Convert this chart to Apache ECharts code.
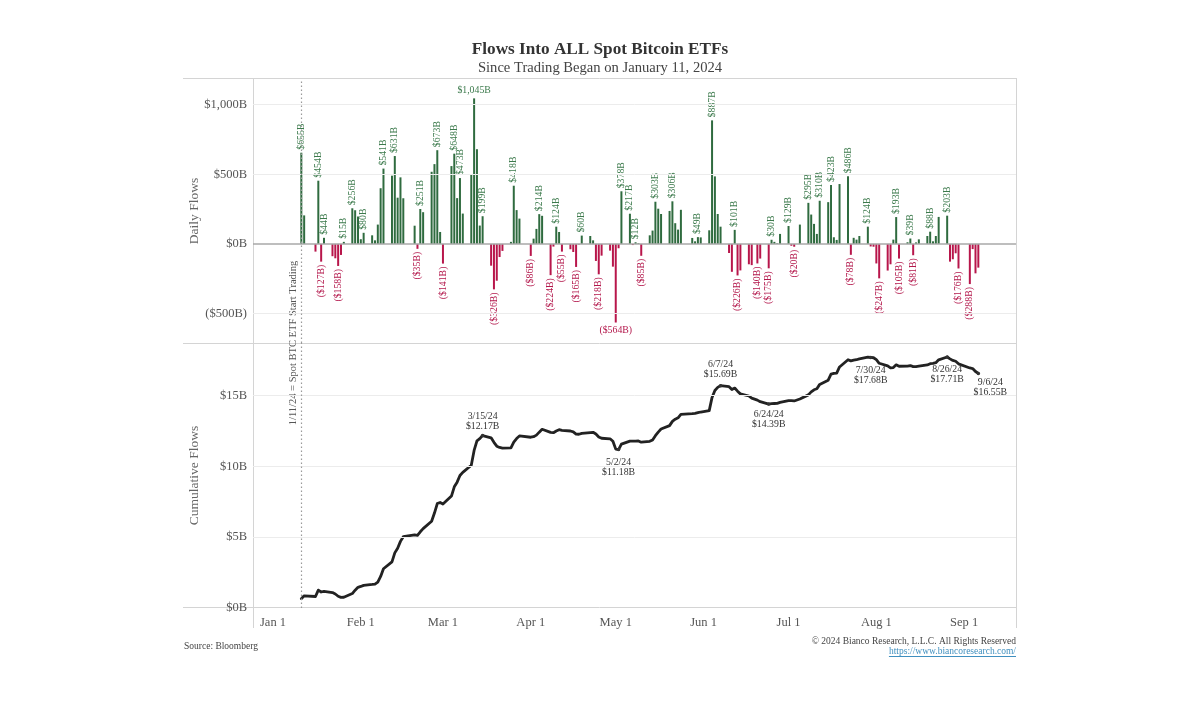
<!DOCTYPE html>
<html><head><meta charset="utf-8">
<script src="https://cdn.jsdelivr.net/npm/echarts@6/dist/echarts.min.js"></script>
<style>html,body{margin:0;padding:0;background:#fff}#c{width:1200px;height:728px}</style>
</head><body><div id="c"></div>
<script>
// ---------------- DATA ----------------
const tradingDays = [
'2024-01-11','2024-01-12','2024-01-16','2024-01-17','2024-01-18','2024-01-19','2024-01-22','2024-01-23','2024-01-24','2024-01-25','2024-01-26','2024-01-29','2024-01-30','2024-01-31',
'2024-02-01','2024-02-02','2024-02-05','2024-02-06','2024-02-07','2024-02-08','2024-02-09','2024-02-12','2024-02-13','2024-02-14','2024-02-15','2024-02-16','2024-02-20','2024-02-21','2024-02-22','2024-02-23','2024-02-26','2024-02-27','2024-02-28','2024-02-29',
'2024-03-01','2024-03-04','2024-03-05','2024-03-06','2024-03-07','2024-03-08','2024-03-11','2024-03-12','2024-03-13','2024-03-14','2024-03-15','2024-03-18','2024-03-19','2024-03-20','2024-03-21','2024-03-22','2024-03-25','2024-03-26','2024-03-27','2024-03-28',
'2024-04-01','2024-04-02','2024-04-03','2024-04-04','2024-04-05','2024-04-08','2024-04-09','2024-04-10','2024-04-11','2024-04-12','2024-04-15','2024-04-16','2024-04-17','2024-04-18','2024-04-19','2024-04-22','2024-04-23','2024-04-24','2024-04-25','2024-04-26','2024-04-29','2024-04-30',
'2024-05-01','2024-05-02','2024-05-03','2024-05-06','2024-05-07','2024-05-08','2024-05-09','2024-05-10','2024-05-13','2024-05-14','2024-05-15','2024-05-16','2024-05-17','2024-05-20','2024-05-21','2024-05-22','2024-05-23','2024-05-24','2024-05-28','2024-05-29','2024-05-30','2024-05-31',
'2024-06-03','2024-06-04','2024-06-05','2024-06-06','2024-06-07','2024-06-10','2024-06-11','2024-06-12','2024-06-13','2024-06-14','2024-06-17','2024-06-18','2024-06-20','2024-06-21','2024-06-24','2024-06-25','2024-06-26','2024-06-27','2024-06-28',
'2024-07-01','2024-07-02','2024-07-03','2024-07-05','2024-07-08','2024-07-09','2024-07-10','2024-07-11','2024-07-12','2024-07-15','2024-07-16','2024-07-17','2024-07-18','2024-07-19','2024-07-22','2024-07-23','2024-07-24','2024-07-25','2024-07-26','2024-07-29','2024-07-30','2024-07-31',
'2024-08-01','2024-08-02','2024-08-05','2024-08-06','2024-08-07','2024-08-08','2024-08-09','2024-08-12','2024-08-13','2024-08-14','2024-08-15','2024-08-16','2024-08-19','2024-08-20','2024-08-21','2024-08-22','2024-08-23','2024-08-26','2024-08-27','2024-08-28','2024-08-29','2024-08-30',
'2024-09-03','2024-09-04','2024-09-05','2024-09-06'
];
// daily net flows (chart's "$…B", i.e. millions)
const dailyFlows = [
655,205,-55,454,-127,44,-88,-103,-158,-79,15,256,242,197,
34,80,62,26,139,400,541,490,631,332,478,328,131,-35,251,228,518,573,673,86,
-141,559,648,329,473,218,502,1045,680,132,199,-156,-326,-264,-94,-50,15,418,243,182,
-86,38,108,214,202,-224,-19,124,86,-55,-38,-58,-165,-4,60,57,26,-122,-218,-84,-48,-163,
-564,-31,378,217,-8,12,5,-85,62,96,303,253,215,237,306,149,103,245,43,19,49,47,
98,887,485,215,124,-65,-200,101,-226,-190,-146,-152,-140,-105,-175,30,15,5,72,
129,-13,-20,139,295,211,144,72,310,300,423,48,29,430,486,-78,44,31,57,124,-18,-20,
-140,-247,-191,-146,31,193,-105,12,39,-81,11,33,57,88,19,57,194,203,-127,-110,-67,-176,
-288,-37,-211,-170
];
// cumulative flows, $B
const cumulativeFlows = [
0.66,0.86,0.81,1.26,1.13,1.18,1.09,0.99,0.83,0.75,0.76,1.02,1.26,1.46,
1.52,1.60,1.66,1.69,1.83,2.23,2.77,3.26,3.89,4.22,4.70,5.03,5.16,5.13,5.38,5.60,6.12,6.70,7.37,7.45,
7.34,7.90,8.55,8.88,9.35,9.57,10.07,11.12,11.80,11.95,12.17,12.01,11.69,11.42,11.33,11.28,11.30,11.71,11.96,12.14,
12.05,12.09,12.20,12.41,12.61,12.39,12.37,12.49,12.58,12.53,12.49,12.43,12.27,12.26,12.32,12.38,12.40,12.28,12.07,11.98,11.94,11.77,
11.21,11.18,11.56,11.78,11.77,11.78,11.79,11.70,11.76,11.86,12.16,12.41,12.63,12.87,13.17,13.32,13.42,13.67,13.71,13.73,13.78,13.83,
13.93,14.86,15.35,15.57,15.69,15.62,15.42,15.52,15.30,15.11,14.96,14.81,14.67,14.56,14.39,14.42,14.43,14.44,14.51,
14.64,14.63,14.61,14.75,15.04,15.25,15.40,15.47,15.78,16.08,16.50,16.55,16.58,17.01,17.52,17.44,17.49,17.52,17.58,17.70,17.68,17.66,
17.52,17.27,17.08,16.94,16.97,17.16,17.06,17.07,17.11,17.03,17.04,17.07,17.15,17.24,17.26,17.31,17.51,17.71,17.58,17.47,17.41,17.23,
16.94,16.90,16.69,16.55
];
const labeledDays = ['2024-01-11','2024-01-17','2024-01-18','2024-01-19','2024-01-24','2024-01-26','2024-01-29','2024-02-02','2024-02-09','2024-02-13','2024-02-21','2024-02-22','2024-02-28','2024-03-01','2024-03-05','2024-03-07','2024-03-12','2024-03-15','2024-03-19','2024-03-26','2024-04-01','2024-04-04','2024-04-08','2024-04-10','2024-04-12','2024-04-17','2024-04-19','2024-04-25','2024-05-01','2024-05-03','2024-05-06','2024-05-08','2024-05-10','2024-05-15','2024-05-21','2024-05-30','2024-06-04','2024-06-12','2024-06-13','2024-06-20','2024-06-24','2024-06-25','2024-07-01','2024-07-03','2024-07-08','2024-07-12','2024-07-16','2024-07-22','2024-07-23','2024-07-29','2024-08-02','2024-08-08','2024-08-09','2024-08-13','2024-08-14','2024-08-20','2024-08-26','2024-08-30','2024-09-03'];
const annotatedDays = ['2024-03-15','2024-05-02','2024-06-07','2024-06-24','2024-07-30','2024-08-26','2024-09-06'];
const startDay = '2024-01-11';
const monthTicks = ['2024-01-01','2024-02-01','2024-03-01','2024-04-01','2024-05-01','2024-06-01','2024-07-01','2024-08-01','2024-09-01'];
const dailyTicks = [-500, 0, 500, 1000];
const cumulativeTicks = [0, 5, 10, 15];

// ---------------- CHART ----------------
const DAY = 86400000;
const t = s => { const p = s.split('-').map(Number); return new Date(p[0], p[1]-1, p[2]).getTime(); };
const MONTHS = ['Jan','Feb','Mar','Apr','May','Jun','Jul','Aug','Sep','Oct','Nov','Dec'];
const FONT = '"Liberation Serif", "DejaVu Serif", serif';
const GREEN = '#2f6b3f', RED = '#b8164b';
const GREEN_T = '#3c7a4c', RED_T = '#b3174b';
const xMin = t('2024-01-01') - 7.06*DAY, xMax = t('2024-01-01') + 262.3*DAY;
const G = {left: 253, right: 184};
const fmtM = v => v < 0 ? '($' + Math.abs(v).toLocaleString('en-US') + 'B)' : '$' + v.toLocaleString('en-US') + 'B';
const horizontalLabel = new Set(['2024-03-12','2024-05-01']);

const barData = tradingDays.map((d, i) => {
  const v = dailyFlows[i];
  const item = {value: [t(d), v], itemStyle: {color: v >= 0 ? GREEN : RED}};
  if (labeledDays.includes(d)) {
    const pos = v >= 0 ? 'top' : 'bottom';
    const horiz = horizontalLabel.has(d);
    item.label = {
      show: true, position: pos, distance: 3,
      rotate: horiz ? 0 : 90,
      align: horiz ? 'center' : (v >= 0 ? 'left' : 'right'),
      verticalAlign: horiz ? (v >= 0 ? 'bottom' : 'top') : 'middle',
      color: v >= 0 ? GREEN_T : RED_T, fontFamily: FONT, fontSize: 9.8,
      formatter: () => fmtM(v)
    };
  }
  return item;
});

const annPos = {
  '2024-03-15': {position: 'top', distance: 2},
  '2024-05-02': {position: 'bottom', distance: 6},
  '2024-06-07': {position: 'top', distance: 4},
  '2024-06-24': {position: 'bottom', distance: 4},
  '2024-07-30': {position: 'bottom', distance: 6},
  '2024-08-26': {position: 'bottom', distance: 6},
  '2024-09-06': {position: 'bottom', distance: 2, offset: [12, 0]}
};
const annData = annotatedDays.map(d => {
  const i = tradingDays.indexOf(d);
  const v = cumulativeFlows[i];
  const p = d.split('-').map(Number);
  return {
    coord: [t(d), v],
    label: Object.assign({
      show: true, lineHeight: 10, fontSize: 9.8, fontFamily: FONT, color: '#333',
      formatter: p[1] + '/' + p[2] + '/24\n$' + v.toFixed(2) + 'B'
    }, annPos[d])
  };
});

const chart = echarts.init(document.getElementById('c'));
const axisLabelStyle = {color: '#555', fontFamily: FONT, fontSize: 12.5};
const nameStyle = {color: '#666', fontFamily: FONT, fontSize: 13.5};
const option = {
  backgroundColor: '#fff',
  animation: false,
  title: {
    text: 'Flows Into ALL Spot Bitcoin ETFs',
    subtext: 'Since Trading Began on January 11, 2024',
    left: 'center', top: 36, itemGap: 3,
    textStyle: {fontFamily: FONT, fontSize: 17.2, fontWeight: 'bold', color: '#333'},
    subtextStyle: {fontFamily: FONT, fontSize: 14.6, color: '#444'}
  },
  grid: [
    {left: G.left, right: G.right, top: 79, height: 264},
    {left: G.left, right: G.right, top: 343, height: 265}
  ],
  xAxis: [
    {type: 'value', gridIndex: 0, min: xMin, max: xMax, show: false, splitLine: {show: false}},
    {type: 'value', gridIndex: 1, min: xMin, max: xMax,
     axisLine: {show: false}, axisTick: {show: false}, splitLine: {show: false},
     axisLabel: Object.assign({}, axisLabelStyle, {
       margin: 8, customValues: monthTicks.map(t), hideOverlap: false,
       formatter: v => { const dt = new Date(v); return MONTHS[dt.getMonth()] + ' ' + dt.getDate(); }
     })}
  ],
  yAxis: [
    {type: 'value', gridIndex: 0, min: -711, max: 1184,
     name: 'Daily Flows', nameLocation: 'middle', nameGap: 52, nameRotate: 90, nameMoveOverlap: false,
     nameTextStyle: nameStyle,
     axisLine: {show: false}, axisTick: {show: false}, splitLine: {show: false},
     axisLabel: Object.assign({}, axisLabelStyle, {margin: 6, customValues: dailyTicks,
       formatter: v => v < 0 ? '($' + Math.abs(v).toLocaleString('en-US') + 'B)' : '$' + v.toLocaleString('en-US') + 'B'})},
    {type: 'value', gridIndex: 1, min: 0, max: 18.7,
     name: 'Cumulative Flows', nameLocation: 'middle', nameGap: 52, nameRotate: 90, nameMoveOverlap: false,
     nameTextStyle: nameStyle,
     axisLine: {show: false}, axisTick: {show: false}, splitLine: {show: false},
     axisLabel: Object.assign({}, axisLabelStyle, {margin: 6, customValues: cumulativeTicks,
       formatter: v => '$' + v + 'B'})}
  ],
  series: [
    {type: 'line', xAxisIndex: 0, yAxisIndex: 0, data: [], z: 1, silent: true,
     markLine: {silent: true, symbol: 'none', label: {show: false}, animation: false,
       data: dailyTicks.filter(v => v !== 0).map(v => ({yAxis: v, lineStyle: {color: '#ececec', width: 1, type: 'solid'}}))
         .concat([{xAxis: t(startDay), lineStyle: {color: '#9a9a9a', width: 1.2, type: [1.5, 2.5]}}])}},
    {type: 'bar', xAxisIndex: 0, yAxisIndex: 0, data: barData, barWidth: 2, z: 2, silent: true,
     markLine: {silent: true, symbol: 'none', label: {show: false}, animation: false,
       data: [{yAxis: 0, lineStyle: {color: '#a8a8a8', width: 1.5, type: 'solid'}}]}},
    {type: 'line', xAxisIndex: 1, yAxisIndex: 1, data: [], z: 1, silent: true,
     markLine: {silent: true, symbol: 'none', label: {show: false}, animation: false,
       data: cumulativeTicks.filter(v => v !== 0).map(v => ({yAxis: v, lineStyle: {color: '#ececec', width: 1, type: 'solid'}}))
         .concat([{xAxis: t(startDay), lineStyle: {color: '#9a9a9a', width: 1.2, type: [1.5, 2.5]}}])}},
    {type: 'line', xAxisIndex: 1, yAxisIndex: 1, z: 3, silent: true,
     data: tradingDays.map((d, i) => [t(d), cumulativeFlows[i]]),
     showSymbol: false, lineStyle: {color: '#222', width: 2.8, join: 'round', cap: 'round'},
     markPoint: {symbol: 'circle', symbolSize: 3.5, itemStyle: {color: '#333'}, silent: true, animation: false, data: annData}}
  ]
};
chart.setOption(option);

// decorations: panel borders, annotation text, footer
const lx = chart.convertToPixel({xAxisIndex: 0}, t(startDay));
const B = '#d4d4d4';
const line = (x1, y1, x2, y2, c) => ({type: 'line', silent: true, shape: {x1, y1, x2, y2}, style: {stroke: c || B, lineWidth: 1}});
const mc = document.createElement('canvas').getContext('2d');
mc.font = '9.5px ' + FONT;
const urlText = 'https://www.biancoresearch.com/';
const urlW = mc.measureText(urlText).width;
chart.setOption({graphic: [
  line(183, 78.5, 1016, 78.5),
  line(183, 343.5, 1016, 343.5),
  line(183, 607.5, 1016, 607.5),
  line(253.5, 78, 253.5, 628),
  line(1016.5, 78, 1016.5, 628),
  {type: 'text', silent: true, x: lx - 3, y: 343, rotation: Math.PI / 2,
   style: {text: '1/11/24 = Spot BTC ETF Start Trading', fill: '#555', font: '10.5px ' + FONT, textAlign: 'center', textVerticalAlign: 'bottom'}},
  {type: 'text', silent: true, x: 184, y: 646, style: {text: 'Source: Bloomberg', fill: '#444', font: '9.5px ' + FONT, textAlign: 'left', textVerticalAlign: 'middle'}},
  {type: 'text', silent: true, x: 1016, y: 641, style: {text: '\u00a9 2024 Bianco Research, L.L.C. All Rights Reserved', fill: '#444', font: '9.5px ' + FONT, textAlign: 'right', textVerticalAlign: 'middle'}},
  {type: 'text', silent: true, x: 1016, y: 651, style: {text: urlText, fill: '#3f8fbf', font: '9.5px ' + FONT, textAlign: 'right', textVerticalAlign: 'middle'}},
  line(1016 - urlW, 656.5, 1016, 656.5, '#3f8fbf')
]});
</script></body></html>
